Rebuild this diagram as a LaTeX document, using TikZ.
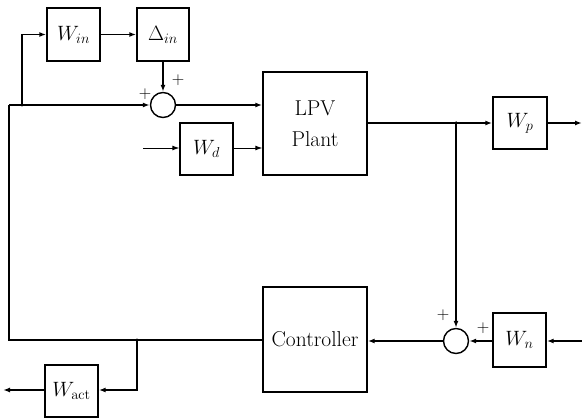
\documentclass[tikz,border=0pt]{standalone}
\usetikzlibrary{arrows.meta,calc}
\begin{document}
\begin{tikzpicture}[x=1pt,y=-1pt,
  blk/.style={draw,line width=1.4pt,rectangle,inner sep=0pt,font=\fontsize{21.5}{31}\selectfont,align=center},
  sumc/.style={draw,line width=1.4pt,circle,minimum size=25pt,inner sep=0pt},
  wire/.style={line width=1.5pt},
  thinw/.style={line width=0.9pt},
  arr/.style={-{Latex[length=7pt,width=5pt]}},
  pl/.style={font=\fontsize{17}{18}\selectfont,inner sep=0pt},
  dot/.style={circle,fill,inner sep=0pt,minimum size=3.5pt}]
\useasboundingbox (0,0) rectangle (582,420);
% blocks
\node[blk,minimum width=53pt,minimum height=53pt] (win) at (73.5,34.5) {$W_{in}$};
\node[blk,minimum width=52pt,minimum height=53pt] (din) at (163,34.5) {$\Delta_{in}$};
\node[sumc] (sum1) at (163,105) {};
\node[blk,minimum width=53pt,minimum height=52pt] (wd) at (206.5,149) {$W_d$};
\node[blk,minimum width=104pt,minimum height=103pt] (lpv) at (315,123.5) {LPV\\Plant};
\node[blk,minimum width=54pt,minimum height=52pt] (wp) at (520,123) {$W_p$};
\node[blk,minimum width=104pt,minimum height=105pt] (ctrl) at (315,339.5) {Controller};
\node[sumc] (sum2) at (456,341) {};
\node[blk,minimum width=53pt,minimum height=54pt] (wn) at (519.5,340) {$W_n$};
\node[blk,minimum width=53pt,minimum height=52pt] (wact) at (71.5,391) {$W_{\mathrm{act}}$};
% coordinates
\coordinate (jl) at (9,105);
\coordinate (j1) at (22,105);
\coordinate (cl) at (9,340);
\coordinate (j2) at (456,123);
\coordinate (j3) at (137,340);
\coordinate (wdin) at (143,148);
\coordinate (out1) at (582,123);
\coordinate (in2) at (582,341);
\coordinate (out2) at (3,390);
\coordinate (wactc) at (137,390);
% connectors
\draw[wire,arr] (jl) -- (sum1.west);
\draw[wire,arr] (j1) |- (win.west);
\draw[wire,arr] (win) -- (din);
\draw[wire,arr] (din.south) -- (sum1.north);
\draw[wire,arr] (sum1.east) -- (sum1.east -| lpv.west);
\draw[thinw,arr] (wdin) -- (wdin -| wd.west);
\draw[thinw,arr] (wdin -| wd.east) -- (wdin -| lpv.west);
\draw[wire] (j2 -| lpv.east) -- (j2);
\draw[wire,arr] (j2) -- (wp.west);
\draw[wire,arr] (wp.east) -- (out1);
\draw[wire,arr] (j2) -- (sum2.north);
\draw[wire,arr] (in2) -- (in2 -| wn.east);
\draw[wire,arr] (in2 -| wn.west) -- (sum2.east);
\draw[wire,arr] (sum2.west) -- (sum2.west -| ctrl.east);
\draw[wire] (j3 -| ctrl.west) -- (j3) -- (cl) -- (jl);
\draw[wire,arr] (j3) -- (wactc) -- (wactc -| wact.east);
\draw[wire,arr] (out2 -| wact.west) -- (out2);
% junction dots
\node[dot] at (j1) {};
\node[dot] at (j2) {};
\node[dot] at (j3) {};
% plus signs
\node[pl] (p1) at (145,94) {$+$};
\node[pl] (p2) at (178,80) {$+$};
\node[pl] (p3) at (443,315) {$+$};
\node[pl] (p4) at (483,328) {$+$};
\end{tikzpicture}
\end{document}
